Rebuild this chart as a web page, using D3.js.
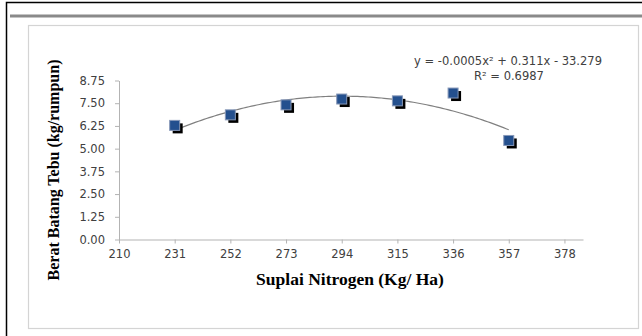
<!DOCTYPE html>
<html>
<head>
<meta charset="utf-8">
<script src="https://cdn.jsdelivr.net/npm/d3@7"></script>
<style>
  body { margin: 0; background: #fff; }
  .tick text { font-family: "DejaVu Sans", sans-serif; font-size: 11.5px; fill: #404040; }
  .axisTitle { font-family: "Liberation Serif", serif; font-weight: bold; fill: #000; }
  .trendLabel { font-family: "DejaVu Sans", sans-serif; font-size: 11.5px; fill: #404040; }
</style>
</head>
<body>
<div class="chart"></div>
<script>
var svgWidth = 642;
var svgHeight = 336;

// data
var nitrogen = [231, 252, 273, 294, 315, 336, 357];
var berat = [6.28, 6.86, 7.41, 7.73, 7.63, 8.06, 5.45];
var xTicks = [210, 231, 252, 273, 294, 315, 336, 357, 378];
var yTicks = [0, 1.25, 2.5, 3.75, 5, 6.25, 7.5, 8.75];
var equationText = "y = -0.0005x\u00b2 + 0.311x - 33.279";
var r2Text = "R\u00b2 = 0.6987";

var svg = d3.select(".chart")
  .append("svg")
  .attr("width", svgWidth)
  .attr("height", svgHeight);

svg.append("rect")
  .attr("width", svgWidth)
  .attr("height", svgHeight)
  .attr("fill", "#fff");

// outer frame (black), grey band and inner plot box
svg.append("path")
  .attr("d", "M6.5,336 V2.5 H642")
  .attr("fill", "none")
  .attr("stroke", "#000")
  .attr("stroke-width", 1.5);

svg.append("rect")
  .attr("x", 10)
  .attr("y", 14.5)
  .attr("width", 632)
  .attr("height", 3)
  .attr("fill", "#8a8a8a");

svg.append("rect")
  .attr("x", 28.5)
  .attr("y", 25.5)
  .attr("width", 610)
  .attr("height", 303)
  .attr("fill", "none")
  .attr("stroke", "#d4d4d4")
  .attr("stroke-width", 1.2);

// scales
var xScale = d3.scaleLinear()
  .domain([210, 385])
  .range([119, 583]);

var yScale = d3.scaleLinear()
  .domain([0, 8.75])
  .range([239.5, 80.5]);

var bottomAxis = d3.axisBottom(xScale)
  .tickValues(xTicks)
  .tickSizeInner(4)
  .tickSizeOuter(0)
  .tickPadding(6)
  .tickFormat(d3.format("d"));

var leftAxis = d3.axisLeft(yScale)
  .tickValues(yTicks)
  .tickSizeInner(4)
  .tickSizeOuter(0)
  .tickPadding(10)
  .tickFormat(d3.format(".2f"));

var xAxisG = svg.append("g")
  .attr("transform", `translate(0, ${yScale(0)})`)
  .call(bottomAxis);

var yAxisG = svg.append("g")
  .attr("transform", `translate(${xScale(210)}, 0)`)
  .call(leftAxis);

[xAxisG, yAxisG].forEach(function(g) {
  g.select(".domain").attr("stroke", "#b3b3b3");
  g.selectAll(".tick line").attr("stroke", "#b3b3b3");
});

// polynomial (order 2) trendline, least squares on the points
function quadFit(xs, ys) {
  var n = xs.length, s = [0, 0, 0, 0, 0], t = [0, 0, 0];
  for (var i = 0; i < n; i++) {
    var p = 1;
    for (var k = 0; k < 5; k++) {
      s[k] += p;
      if (k < 3) t[k] += p * ys[i];
      p *= xs[i];
    }
  }
  var m = [[s[0], s[1], s[2], t[0]], [s[1], s[2], s[3], t[1]], [s[2], s[3], s[4], t[2]]];
  for (var c = 0; c < 3; c++) {
    for (var r = c + 1; r < 3; r++) {
      var f = m[r][c] / m[c][c];
      for (var j = c; j < 4; j++) m[r][j] -= f * m[c][j];
    }
  }
  var coef = [0, 0, 0];
  for (var r2 = 2; r2 >= 0; r2--) {
    var v = m[r2][3];
    for (var j2 = r2 + 1; j2 < 3; j2++) v -= m[r2][j2] * coef[j2];
    coef[r2] = v / m[r2][r2];
  }
  return function(x) { return coef[0] + coef[1] * x + coef[2] * x * x; };
}

var fit = quadFit(nitrogen, berat);
var trendX = d3.range(nitrogen[0], nitrogen[nitrogen.length - 1] + 0.5, 1);

svg.append("path")
  .datum(trendX)
  .attr("fill", "none")
  .attr("stroke", "#808080")
  .attr("stroke-width", 1.2)
  .attr("d", d3.line()
    .x(d => xScale(d))
    .y(d => yScale(fit(d))));

// markers: blue squares with black drop shadow
var points = nitrogen.map((d, i) => ({x: d, y: berat[i]}));

svg.selectAll(".shadow")
  .data(points)
  .enter()
  .append("rect")
  .attr("class", "shadow")
  .attr("x", d => xScale(d.x) - 5 + 3)
  .attr("y", d => yScale(d.y) - 5 + 3)
  .attr("width", 10)
  .attr("height", 10)
  .attr("fill", "#000");

svg.selectAll(".marker")
  .data(points)
  .enter()
  .append("rect")
  .attr("class", "marker")
  .attr("x", d => xScale(d.x) - 5)
  .attr("y", d => yScale(d.y) - 5)
  .attr("width", 10)
  .attr("height", 10)
  .attr("fill", "#24508e")
  .attr("stroke", "#8798b8")
  .attr("stroke-width", 1);

// trendline label
svg.append("text")
  .attr("class", "trendLabel")
  .attr("x", 508)
  .attr("y", 65)
  .attr("text-anchor", "middle")
  .text(equationText);

svg.append("text")
  .attr("class", "trendLabel")
  .attr("x", 509)
  .attr("y", 80)
  .attr("text-anchor", "middle")
  .text(r2Text);

// axis titles
svg.append("text")
  .attr("class", "axisTitle")
  .attr("x", 350)
  .attr("y", 285)
  .attr("text-anchor", "middle")
  .style("font-size", "17.5px")
  .text("Suplai Nitrogen (Kg/ Ha)");

svg.append("text")
  .attr("class", "axisTitle")
  .attr("transform", "translate(59, 170) rotate(-90)")
  .attr("text-anchor", "middle")
  .style("font-size", "16px")
  .text("Berat Batang Tebu (kg/rumpun)");
</script>
</body>
</html>
